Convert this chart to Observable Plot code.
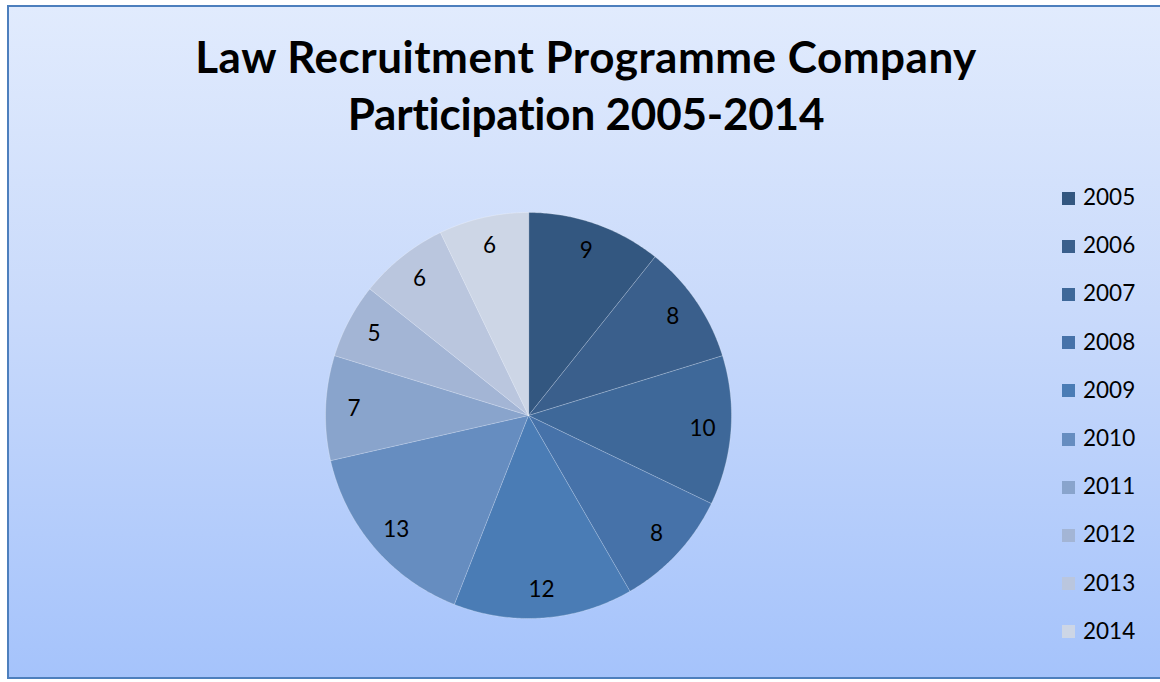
<!DOCTYPE html>
<html>
<head>
<meta charset="utf-8">
<script src="https://cdn.jsdelivr.net/npm/d3@7"></script>
<script src="https://cdn.jsdelivr.net/npm/@observablehq/plot@0.6"></script>
<style>
  html, body { margin: 0; padding: 0; background: #ffffff; }
  #frame { position: relative; width: 1160px; height: 682px; overflow: hidden; }
  #box {
    position: absolute; left: 7px; top: 5px; width: 1170px; height: 674px;
    border: 2.5px solid #4d7fbd; box-sizing: border-box;
    background: linear-gradient(to bottom, #e1ebfd 0%, #c9dafb 45%, #a5c3fb 100%);
  }
  #title {
    position: absolute; left: 0; top: 28px; width: 1172px; text-align: center;
    font-family: Lato, "Open Sans", sans-serif; font-weight: 700; font-size: 44px;
    line-height: 57px; color: #000;
  }
  #title .l1 { letter-spacing: 0.5px; }
  #title .l2 { letter-spacing: -0.2px; }
  #chart { position: absolute; left: 0; top: 150px; }
  #legend { position: absolute; left: 1062px; top: 174px; font-family: Lato, sans-serif; font-size: 22.5px; color: #000; }
  .row { display: flex; align-items: center; height: 48.2px; }
  .sw { width: 13px; height: 13px; margin-right: 8px; }
  .row span { line-height: 22px; position: relative; top: -1px; }
</style>
</head>
<body>
<div id="frame">
  <div id="box"></div>
  <div id="title"><span class="l1">Law Recruitment Programme Company</span><br><span class="l2">Participation 2005-2014</span></div>
  <div id="chart"></div>
  <div id="legend"></div>
</div>
<script>
const years = ["2005","2006","2007","2008","2009","2010","2011","2012","2013","2014"];
const companies = [9, 8, 10, 8, 12, 13, 7, 5, 6, 6];
const sliceColors = ["#335780","#3a5f8c","#3e6899","#4672a9","#4a7cb5","#668dc0","#89a4cc","#a3b5d5","#bac6de","#cdd6e6"];

const data = years.map((y, i) => ({year: y, value: companies[i]}));
const arcs = d3.pie().sort(null).value(d => d.value)(data);

// polygon outline of each slice in unit-circle data space
const outline = [];
for (const a of arcs) {
  const steps = Math.max(2, Math.ceil((a.endAngle - a.startAngle) / 0.01));
  outline.push({year: a.data.year, x: 0, y: 0});
  for (let k = 0; k <= steps; k++) {
    const t = a.startAngle + (a.endAngle - a.startAngle) * k / steps;
    outline.push({year: a.data.year, x: Math.sin(t), y: Math.cos(t)});
  }
}
const labelR = 0.86;
const labels = arcs.map(a => {
  const m = (a.startAngle + a.endAngle) / 2;
  return {year: a.data.year, value: a.data.value, x: labelR * Math.sin(m), y: labelR * Math.cos(m)};
});

const cx = 528, cy = 265, r = 203;
const plot = Plot.plot({
  width: 1160, height: 532,
  margin: 0,
  style: {background: "transparent", overflow: "visible"},
  x: {domain: [-1, 1], range: [cx - r, cx + r], axis: null},
  y: {domain: [-1, 1], range: [cy + r, cy - r], axis: null},
  color: {type: "ordinal", domain: years, range: sliceColors},
  marks: [
    Plot.line(outline, {x: "x", y: "y", z: "year", fill: "year", stroke: "#ffffff", strokeOpacity: 0.25, strokeWidth: 1, curve: "linear-closed"}),
    Plot.text(labels, {x: "x", y: "y", text: d => String(d.value), fill: "#000", fontSize: 22.5, fontFamily: "Lato, sans-serif"})
  ]
});
document.getElementById("chart").appendChild(plot);

const color = plot.scale("color");
const legend = document.getElementById("legend");
years.forEach((y, i) => {
  const row = document.createElement("div");
  row.className = "row";
  const sw = document.createElement("div");
  sw.className = "sw";
  sw.style.background = color.range[i];
  const t = document.createElement("span");
  t.textContent = y;
  row.appendChild(sw); row.appendChild(t);
  legend.appendChild(row);
});
</script>
</body>
</html>
